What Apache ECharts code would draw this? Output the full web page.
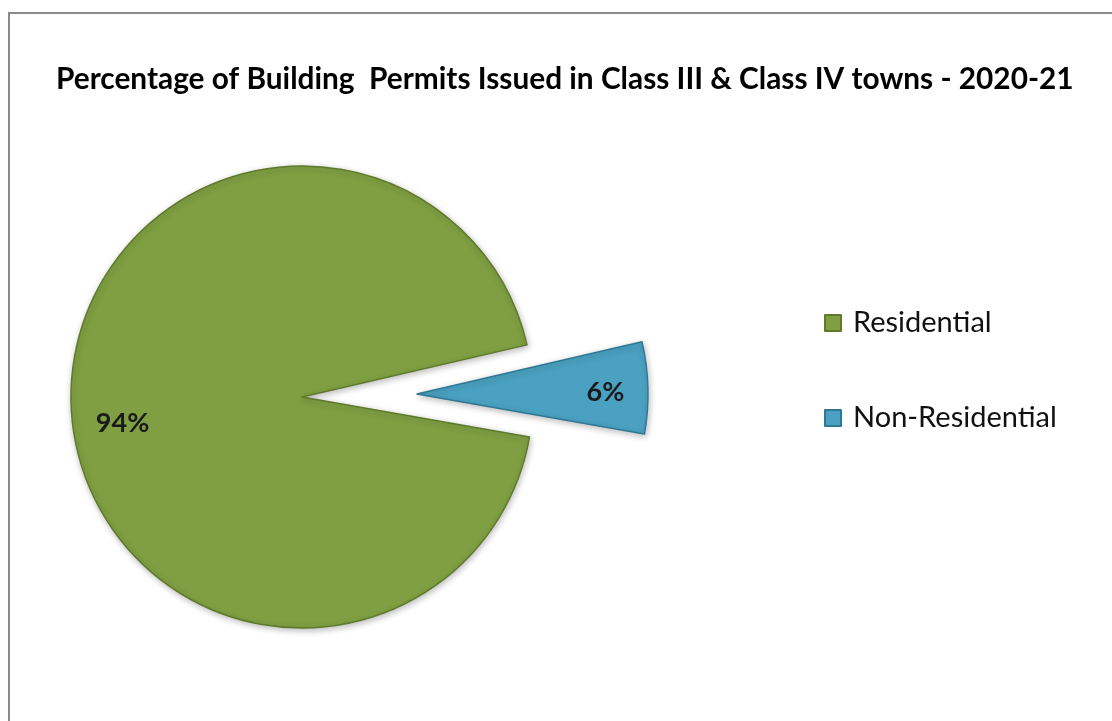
<!DOCTYPE html>
<html>
<head>
<meta charset="utf-8">
<style>
html,body{margin:0;padding:0;background:#fff;}
#chart{width:1112px;height:721px;}
</style>
<script src="https://cdn.jsdelivr.net/npm/echarts@6/dist/echarts.min.js"></script>
</head>
<body>
<div id="chart"></div>
<script>
const titleText = 'Percentage of Building  Permits Issued in Class III & Class IV towns - 2020-21';
const categories = ['Residential', 'Non-Residential'];
const values = [93.6, 6.4];
const colors = ['#7f9f42', '#4aa1c1'];
const borderColors = ['#5e7a2a', '#2f7894'];

const chart = echarts.init(document.getElementById('chart'), null, {renderer: 'canvas'});
const labelShift = [[-61, 23], [70, 1]];

chart.setOption({
  animation: false,
  backgroundColor: '#ffffff',
  graphic: [{
    type: 'rect',
    shape: {x: 9, y: 13, width: 1200, height: 800},
    style: {fill: 'none', stroke: '#8a8a8a', lineWidth: 2},
    silent: true
  }],
  title: {
    text: titleText,
    left: 51,
    top: 59,
    textStyle: {fontFamily: 'Lato', fontWeight: 'bold', fontSize: 29.8, color: '#000'}
  },
  legend: {
    orient: 'vertical',
    left: 824,
    top: 308,
    padding: 0,
    itemWidth: 16,
    itemHeight: 16,
    itemGap: 65,
    icon: 'rect',
    data: categories,
    textStyle: {fontFamily: 'Lato', fontSize: 29, color: '#111', lineHeight: 30, padding: [0, 0, 0, 7]}
  },
  series: [{
    type: 'pie',
    center: [302, 397],
    radius: 231,
    startAngle: 350,
    clockwise: true,
    selectedMode: 'single',
    selectedOffset: 115,
    avoidLabelOverlap: false,
    label: {
      show: true,
      position: 'inside',
      fontFamily: 'Lato',
      fontWeight: 'bold',
      fontSize: 27,
      color: '#1a1a1a',
      formatter: p => Math.round(p.percent) + '%'
    },
    labelLayout: p => ({dx: labelShift[p.dataIndex][0], dy: labelShift[p.dataIndex][1]}),
    labelLine: {show: false},
    emphasis: {disabled: true},
    data: categories.map((c, i) => ({
      name: c,
      value: values[i],
      selected: i === 1,
      itemStyle: {
        color: colors[i],
        borderColor: borderColors[i],
        borderWidth: 1.5,
        shadowBlur: 6,
        shadowColor: 'rgba(0,0,0,0.25)',
        shadowOffsetX: 1,
        shadowOffsetY: 2
      }
    }))
  }]
});
</script>
</body>
</html>
